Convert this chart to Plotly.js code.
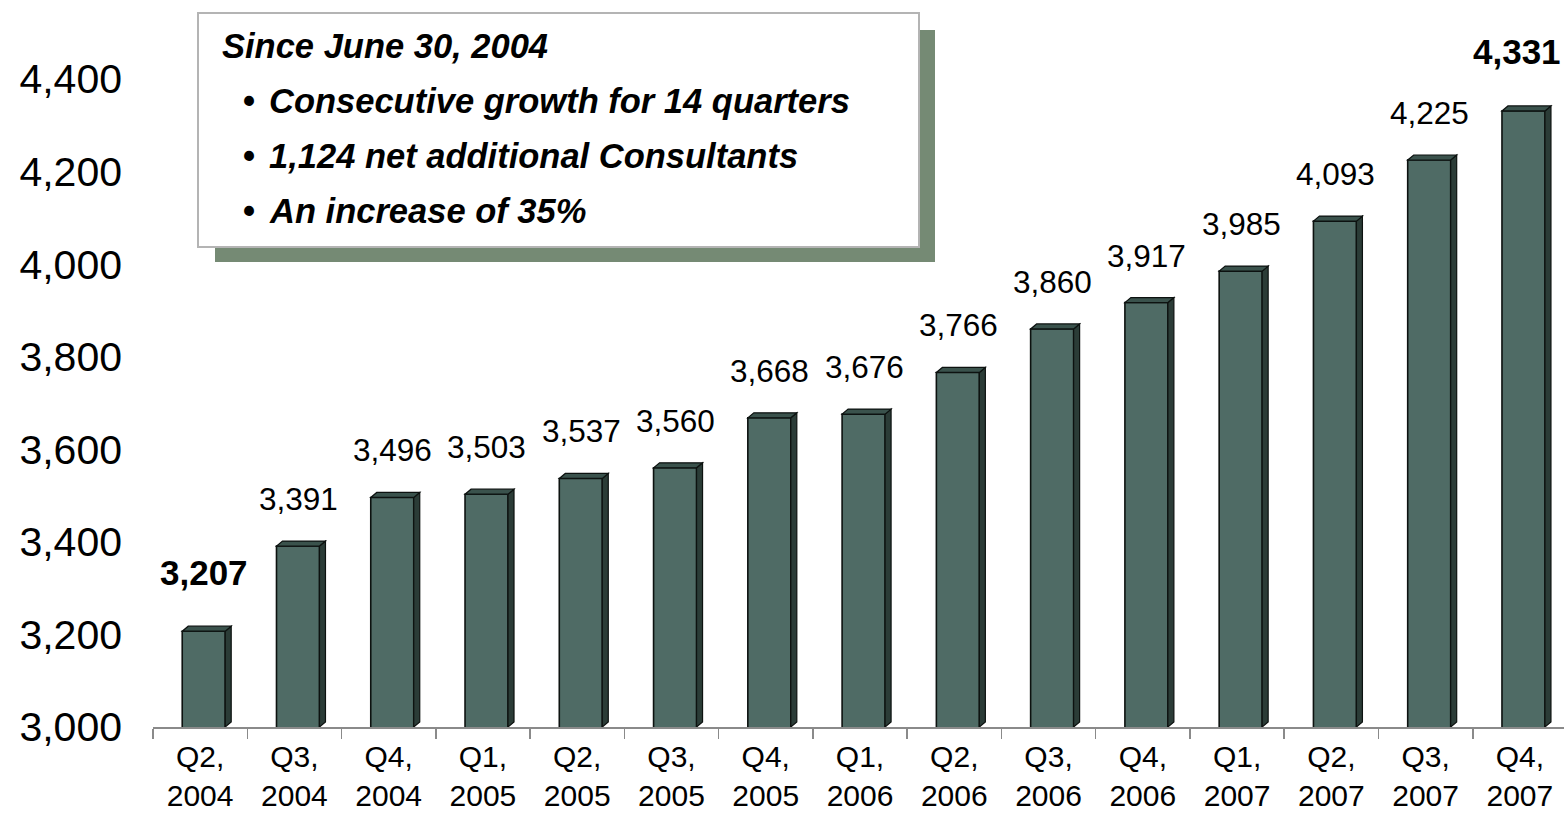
<!DOCTYPE html>
<html>
<head>
<meta charset="utf-8">
<script src="https://cdn.plot.ly/plotly-3.0.1.min.js"></script>
<style>
  html, body { margin: 0; padding: 0; background: #ffffff; }
  #chart { width: 1564px; height: 815px; }
</style>
</head>
<body>
<div id="chart"></div>
<script>
// ---------------- data ----------------
const categories = ['Q2, 2004', 'Q3, 2004', 'Q4, 2004', 'Q1, 2005', 'Q2, 2005', 'Q3, 2005', 'Q4, 2005',
                    'Q1, 2006', 'Q2, 2006', 'Q3, 2006', 'Q4, 2006', 'Q1, 2007', 'Q2, 2007', 'Q3, 2007', 'Q4, 2007'];
const categoryTickText = ['Q2,<br>2004', 'Q3,<br>2004', 'Q4,<br>2004', 'Q1,<br>2005', 'Q2,<br>2005', 'Q3,<br>2005', 'Q4,<br>2005',
                          'Q1,<br>2006', 'Q2,<br>2006', 'Q3,<br>2006', 'Q4,<br>2006', 'Q1,<br>2007', 'Q2,<br>2007', 'Q3,<br>2007', 'Q4,<br>2007'];
const consultants = [3207, 3391, 3496, 3503, 3537, 3560, 3668, 3676, 3766, 3860, 3917, 3985, 4093, 4225, 4331];
const emphasizedCategories = ['Q2, 2004', 'Q4, 2007'];
const yTickValues = [3000, 3200, 3400, 3600, 3800, 4000, 4200, 4400];
const yTickText = ['3,000', '3,200', '3,400', '3,600', '3,800', '4,000', '4,200', '4,400'];
const boxTitle = 'Since June 30, 2004';
const boxBullets = ['Consecutive growth for 14 quarters', '1,124 net additional Consultants', 'An increase of 35%'];

// ---------------- layout constants ----------------
const W = 1564, H = 815;
const M = { l: 153, r: 0, t: 0, b: 88 };
const plotW = W - M.l - M.r, plotH = H - M.t - M.b;
const yRange = [3000, 4570.7];
const xRange = [-0.5, 14.468];
const FONT = 'Arial, "Liberation Sans", sans-serif';

const FRONT_OFFSET = -0.19, FRONT_WIDTH = 0.456;   // category units
const frontL = FRONT_OFFSET * plotW / (xRange[1] - xRange[0]);
const frontR = (FRONT_OFFSET + FRONT_WIDTH) * plotW / (xRange[1] - xRange[0]);
const DEPTH_X = 6, DEPTH_Y_PX = 5;
const depthY = DEPTH_Y_PX * (yRange[1] - yRange[0]) / plotH;

const px = x => (x - M.l) / plotW;
const py = y => 1 - (y - M.t) / plotH;

// ---------------- traces ----------------
const barTrace = {
  type: 'bar',
  x: categories,
  y: consultants,
  offset: FRONT_OFFSET,
  width: FRONT_WIDTH,
  marker: { color: '#4f6b65', line: { color: '#0d1210', width: 1.6 } },
  hoverinfo: 'x+y',
  cliponaxis: true
};

// ---------------- 3D faces (shapes anchored to data) ----------------
const shapes = [];
categories.forEach((c, i) => {
  const v = consultants[i];
  const base = yRange[0];
  shapes.push({
    type: 'path', xref: 'x', yref: 'y', xsizemode: 'pixel', xanchor: i,
    path: `M${frontR},${v} L${frontR + DEPTH_X},${v + depthY} L${frontR + DEPTH_X},${base + depthY} L${frontR},${base} Z`,
    fillcolor: '#2b3c37', line: { color: '#0d1210', width: 1.2 }, layer: 'above'
  });
  shapes.push({
    type: 'path', xref: 'x', yref: 'y', xsizemode: 'pixel', xanchor: i,
    path: `M${frontL},${v} L${frontR},${v} L${frontR + DEPTH_X},${v + depthY} L${frontL + DEPTH_X},${v + depthY} Z`,
    fillcolor: '#3a524c', line: { color: '#0d1210', width: 1.2 }, layer: 'above'
  });
});

// text box with shadow
shapes.push({
  type: 'rect', xref: 'paper', yref: 'paper',
  x0: px(215), x1: px(935), y0: py(262), y1: py(30),
  fillcolor: '#758a74', line: { width: 0 }, layer: 'above'
});
shapes.push({
  type: 'rect', xref: 'paper', yref: 'paper',
  x0: px(198), x1: px(919), y0: py(247), y1: py(13),
  fillcolor: '#ffffff', line: { color: '#b4b4b4', width: 2 }, layer: 'above'
});

// ---------------- annotations ----------------
const annotations = [];
categories.forEach((c, i) => {
  const bold = emphasizedCategories.includes(c);
  const label = consultants[i].toLocaleString('en-US');
  annotations.push({
    x: c, y: consultants[i], xref: 'x', yref: 'y',
    text: bold ? '<b>' + label + '</b>' : label,
    showarrow: false, xanchor: 'center', yanchor: 'middle',
    xshift: (i === categories.length - 1) ? -3 : 4,
    yshift: bold ? 59 : 47,
    font: { family: FONT, size: bold ? 35 : 31.5, color: '#000000' }
  });
});

annotations.push({
  xref: 'paper', yref: 'paper', x: px(220), y: py(46), xanchor: 'left', yanchor: 'middle',
  text: '<b><i>' + boxTitle + '</i></b>', showarrow: false,
  font: { family: FONT, size: 34.5, color: '#000000' }
});
const bulletY = [101, 156, 211];
boxBullets.forEach((t, k) => {
  annotations.push({
    xref: 'paper', yref: 'paper', x: px(241), y: py(bulletY[k]), xanchor: 'left', yanchor: 'middle',
    text: '<b>•</b>', showarrow: false,
    font: { family: FONT, size: 34.5, color: '#000000' }
  });
  annotations.push({
    xref: 'paper', yref: 'paper', x: px(267), y: py(bulletY[k]), xanchor: 'left', yanchor: 'middle',
    text: '<b><i>' + t + '</i></b>', showarrow: false,
    font: { family: FONT, size: 34.5, color: '#000000' }
  });
});

const layout = {
  width: W, height: H,
  margin: M,
  paper_bgcolor: '#ffffff', plot_bgcolor: '#ffffff',
  showlegend: false,
  bargap: 0,
  xaxis: {
    type: 'category',
    range: xRange,
    tickmode: 'array', tickvals: categories, ticktext: categoryTickText,
    tickson: 'boundaries', ticks: 'outside', ticklen: 10, tickwidth: 1.5, tickcolor: '#8a8a8a',
    showline: true, linecolor: '#8a8a8a', linewidth: 1.5,
    showgrid: false, zeroline: false,
    tickfont: { family: FONT, size: 30, color: '#000000' },
    ticklabelstandoff: 2,
    fixedrange: true
  },
  yaxis: {
    range: yRange,
    tickmode: 'array', tickvals: yTickValues, ticktext: yTickText,
    ticks: '', showline: false, showgrid: false, zeroline: false,
    tickfont: { family: FONT, size: 41, color: '#000000' },
    ticklabelstandoff: 30,
    fixedrange: true
  },
  shapes: shapes,
  annotations: annotations
};

Plotly.newPlot('chart', [barTrace], layout, { displayModeBar: false, staticPlot: true });
</script>
</body>
</html>
